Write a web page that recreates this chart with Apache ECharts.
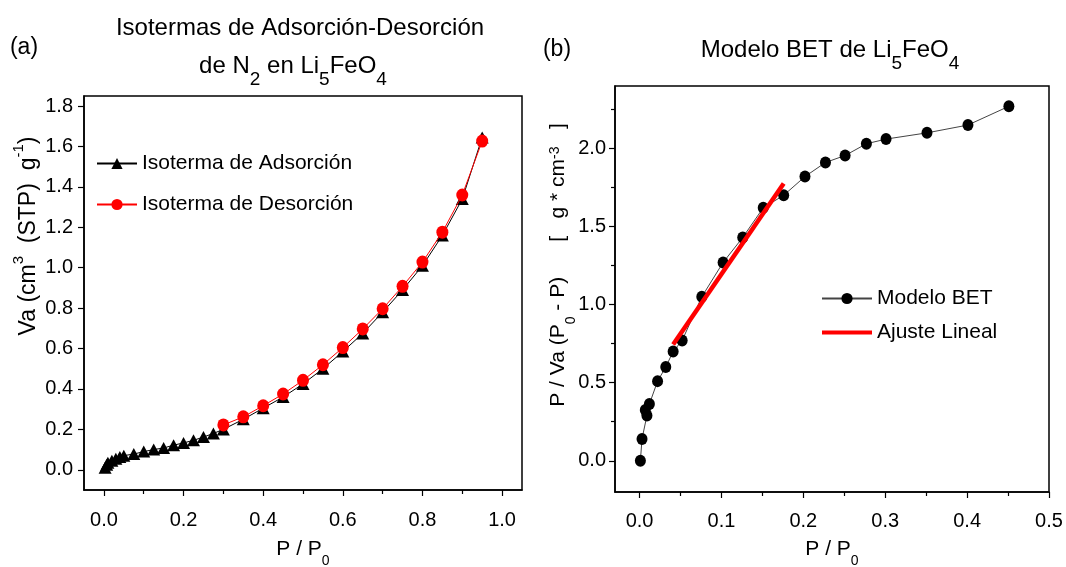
<!DOCTYPE html>
<html><head><meta charset="utf-8">
<script src="https://cdn.jsdelivr.net/npm/echarts@6/dist/echarts.min.js"></script>
<style>html,body{margin:0;padding:0;background:#fff}#c{width:1066px;height:567px}</style>
</head><body><div id="c"></div>
<script>
const FONT = "'Liberation Sans', Arial, sans-serif";

// (a) Isotermas
const adsP = [0.003, 0.007, 0.01, 0.02, 0.03, 0.04, 0.05, 0.075, 0.1, 0.125, 0.15, 0.175, 0.2, 0.225, 0.25, 0.275, 0.3, 0.35, 0.4, 0.45, 0.5, 0.55, 0.6, 0.65, 0.7, 0.75, 0.8, 0.85, 0.9, 0.95];
const adsV = [0.01, 0.025, 0.035, 0.045, 0.055, 0.063, 0.07, 0.078, 0.09, 0.1, 0.108, 0.122, 0.133, 0.146, 0.162, 0.18, 0.2, 0.25, 0.305, 0.36, 0.425, 0.5, 0.585, 0.675, 0.78, 0.89, 1.01, 1.16, 1.34, 1.645];
const desP = [0.3, 0.35, 0.4, 0.45, 0.5, 0.55, 0.6, 0.65, 0.7, 0.75, 0.8, 0.85, 0.9, 0.95];
const desV = [0.222, 0.262, 0.317, 0.375, 0.443, 0.52, 0.605, 0.697, 0.797, 0.908, 1.028, 1.176, 1.36, 1.627];

// (b) BET
const betP = [0.001, 0.003, 0.009, 0.007, 0.012, 0.022, 0.032, 0.041, 0.052, 0.076, 0.102, 0.126, 0.151, 0.176, 0.202, 0.227, 0.251, 0.277, 0.301, 0.351, 0.401, 0.451];
const betV = [0.0, 0.14, 0.29, 0.325, 0.363, 0.51, 0.60, 0.70, 0.77, 1.05, 1.27, 1.43, 1.62, 1.70, 1.82, 1.91, 1.955, 2.03, 2.06, 2.10, 2.15, 2.27];
const fitP = [0.041, 0.176];
const fitV = [0.745, 1.776];

// ticks
const aXMajor = [0, 0.2, 0.4, 0.6, 0.8, 1.0];
const aXMinor = [0.1, 0.3, 0.5, 0.7, 0.9];
const aYMajor = [0, 0.2, 0.4, 0.6, 0.8, 1.0, 1.2, 1.4, 1.6, 1.8];
const bXMajor = [0, 0.1, 0.2, 0.3, 0.4, 0.5];
const bXMinor = [0.05, 0.15, 0.25, 0.35, 0.45];
const bYMajor = [0, 0.5, 1.0, 1.5, 2.0];
const bYMinor = [0.25, 0.75, 1.25, 1.75, 2.25];

const zip = (xs, ys) => xs.map((x, i) => [x, ys[i]]);
const fmt = v => v.toFixed(1);
const lab = {fontSize: 20, fontFamily: FONT, color: '#000'};

function mainAxis(grid, min, max, major, margin, extra) {
  return Object.assign({
    gridIndex: grid, type: 'value', min: min, max: max,
    axisLine: {show: true, onZero: false, lineStyle: {color: '#000', width: 1.5}},
    axisTick: {show: true, inside: false, length: 6, customValues: major, lineStyle: {color: '#000', width: 1.2}},
    axisLabel: Object.assign({show: true, customValues: major, formatter: fmt, margin: margin}, lab),
    splitLine: {show: false}
  }, extra || {});
}
function minorAxis(grid, min, max, minor, pos) {
  return {
    gridIndex: grid, type: 'value', min: min, max: max, position: pos,
    axisLine: {show: false, onZero: false},
    axisTick: {show: true, inside: false, length: 4, customValues: minor, lineStyle: {color: '#000', width: 1.2}},
    axisLabel: {show: false},
    splitLine: {show: false}
  };
}

const xNameStyle = {
  fontSize: 21, fontFamily: FONT, color: '#000',
  rich: {n: {fontSize: 21, fontFamily: FONT, color: '#000', lineHeight: 24, verticalAlign: 'top'},
         s: {fontSize: 14, fontFamily: FONT, color: '#000', lineHeight: 14, verticalAlign: 'top', padding: [15, 0, 0, 0]}}
};
const titleRich = {
  n: {fontSize: 24, fontFamily: FONT, fill: '#000', lineHeight: 28, verticalAlign: 'top'},
  s: {fontSize: 19, fontFamily: FONT, fill: '#000', lineHeight: 19, verticalAlign: 'top', padding: [16, 0, 0, 0]}
};

const chart = echarts.init(document.getElementById('c'));
chart.setOption({
  animation: false,
  backgroundColor: '#fff',
  grid: [
    {left: 84, top: 96, width: 438, height: 394, show: true, borderColor: '#000', borderWidth: 1.5, backgroundColor: 'transparent', containLabel: false, outerBoundsMode: 'none'},
    {left: 615, top: 86, width: 434, height: 406, show: true, borderColor: '#000', borderWidth: 1.5, backgroundColor: 'transparent', containLabel: false, outerBoundsMode: 'none'}
  ],
  xAxis: [
    mainAxis(0, -0.05, 1.05, aXMajor, 20, {position: 'bottom', name: '{n|P / P}{s|0}', nameLocation: 'middle', nameGap: 49, nameTextStyle: xNameStyle}),
    minorAxis(0, -0.05, 1.05, aXMinor, 'bottom'),
    mainAxis(1, -0.03, 0.5, bXMajor, 19, {position: 'bottom', name: '{n|P / P}{s|0}', nameLocation: 'middle', nameGap: 47, nameTextStyle: xNameStyle}),
    minorAxis(1, -0.03, 0.5, bXMinor, 'bottom')
  ],
  yAxis: [
    mainAxis(0, -0.1, 1.85, aYMajor, 11, {position: 'left'}),
    mainAxis(1, -0.2, 2.4, bYMajor, 9, {position: 'left'}),
    minorAxis(1, -0.2, 2.4, bYMinor, 'left')
  ],
  legend: [
    {orient: 'vertical', left: 91, top: 148, itemWidth: 40, itemHeight: 14, itemGap: 20,
     textStyle: {fontSize: 21, fontFamily: FONT, color: '#000'},
     data: ['Isoterma de Adsorción', 'Isoterma de Desorción']},
    {orient: 'vertical', left: 815, top: 283, itemWidth: 50, itemHeight: 14, itemGap: 13,
     textStyle: {fontSize: 21, fontFamily: FONT, color: '#000'},
     data: ['Modelo BET', {name: 'Ajuste Lineal', itemStyle: {opacity: 0}, lineStyle: {width: 4, color: '#ff0000'}}]}
  ],
  series: [
    {name: 'Isoterma de Adsorción', type: 'line', xAxisIndex: 0, yAxisIndex: 0, data: zip(adsP, adsV),
     symbol: 'triangle', symbolSize: [13, 12], itemStyle: {color: '#000'}, lineStyle: {color: '#000', width: 1}, z: 2},
    {name: 'Isoterma de Desorción', type: 'line', xAxisIndex: 0, yAxisIndex: 0, data: zip(desP, desV),
     symbol: 'circle', symbolSize: [12, 13], itemStyle: {color: '#ff0000'}, lineStyle: {color: '#ff0000', width: 1}, z: 3},
    {name: 'Modelo BET', type: 'line', xAxisIndex: 2, yAxisIndex: 1, data: zip(betP, betV),
     symbol: 'circle', symbolSize: [11, 12], itemStyle: {color: '#000'}, lineStyle: {color: '#444', width: 1}, z: 2},
    {name: 'Ajuste Lineal', type: 'line', xAxisIndex: 2, yAxisIndex: 1, data: zip(fitP, fitV),
     symbol: 'none', itemStyle: {color: '#ff0000'}, lineStyle: {color: '#ff0000', width: 4.5}, z: 3}
  ],
  graphic: [
    {type: 'text', x: 300, y: 28, style: {text: 'Isotermas de Adsorción-Desorción', fontSize: 24, fontFamily: FONT, fill: '#000', align: 'center', verticalAlign: 'middle'}},
    {type: 'text', x: 293, y: 68, style: {
      text: '{n|de N}{s|2}{n| en Li}{s|5}{n|FeO}{s|4}', fill: '#000', align: 'center', verticalAlign: 'middle', rich: titleRich}},
    {type: 'text', x: 830, y: 52, style: {
      text: '{n|Modelo BET de Li}{s|5}{n|FeO}{s|4}', fill: '#000', align: 'center', verticalAlign: 'middle', rich: titleRich}},
    {type: 'text', x: 24, y: 48, style: {text: '(a)', fontSize: 23, fontFamily: FONT, fill: '#000', align: 'center', verticalAlign: 'middle'}},
    {type: 'text', x: 557, y: 50, style: {text: '(b)', fontSize: 23, fontFamily: FONT, fill: '#000', align: 'center', verticalAlign: 'middle'}},
    {type: 'text', x: 27, y: 236, rotation: Math.PI / 2, style: {
      text: '{n|Va (cm}{p|3}{n|  (STP)  g}{p|-1}{n|)}', fill: '#000', align: 'center', verticalAlign: 'middle',
      rich: {n: {fontSize: 23, fontFamily: FONT, fill: '#000', lineHeight: 26, verticalAlign: 'bottom'},
             p: {fontSize: 15, fontFamily: FONT, fill: '#000', lineHeight: 15, verticalAlign: 'bottom', padding: [0, 0, 14, 0]}}}},
    {type: 'text', x: 560, y: 265, rotation: Math.PI / 2, style: {
      text: '{n|P / Va (P}{s|0}{n| - P)      [   g * cm}{p|-3}{n|   ]}', fill: '#000', align: 'center', verticalAlign: 'middle',
      rich: {n: {fontSize: 21, fontFamily: FONT, fill: '#000', lineHeight: 24, verticalAlign: 'top'},
             s: {fontSize: 14, fontFamily: FONT, fill: '#000', lineHeight: 14, verticalAlign: 'top', padding: [16, 0, 0, 0]},
             p: {fontSize: 14, fontFamily: FONT, fill: '#000', lineHeight: 14, verticalAlign: 'top', padding: [0, 0, 0, 0]}}}}
  ]
});
</script>
</body></html>
